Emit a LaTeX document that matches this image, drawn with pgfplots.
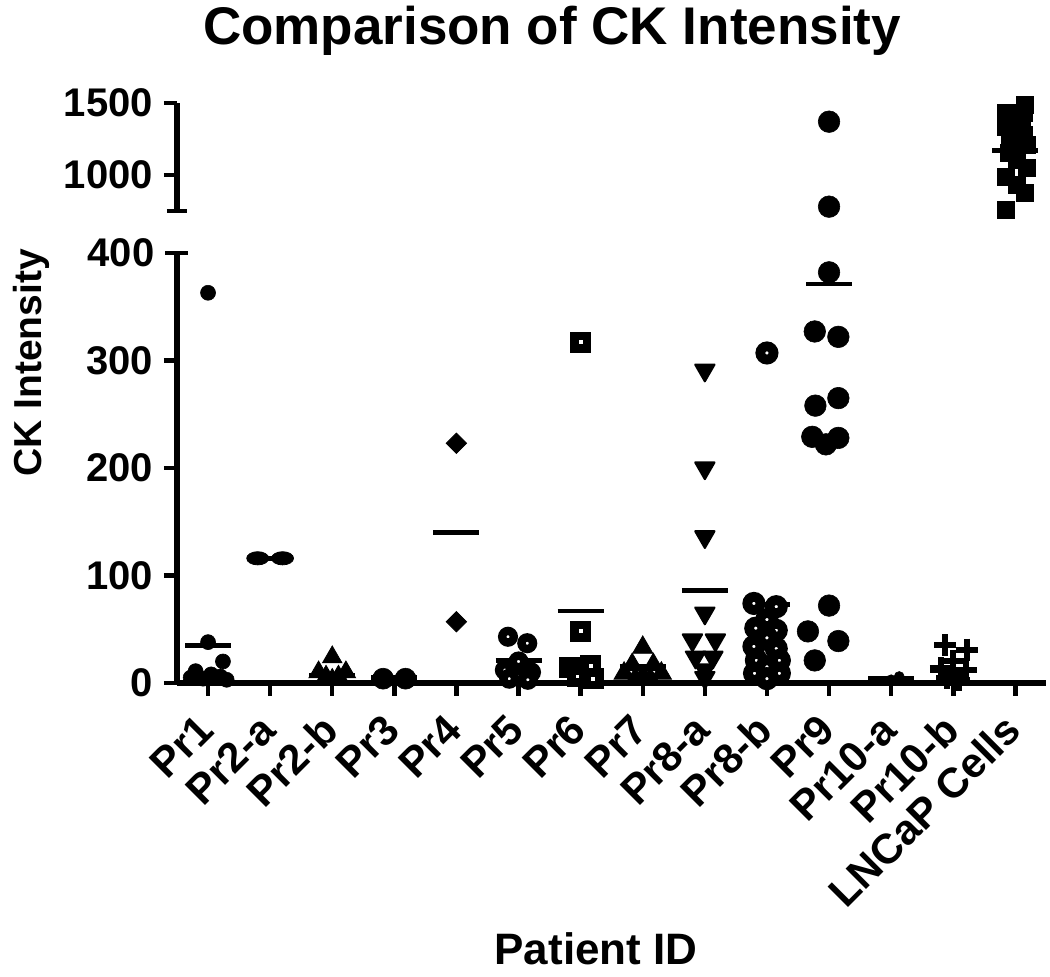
\documentclass[border=0pt]{standalone}
\usepackage{fontspec}
\setmainfont{Liberation Sans}
\usepackage{pgfplots}
\pgfplotsset{compat=1.18}

\pgfplotsset{
  ck/.style={
    scale only axis, width=434.7pt, xmin=-0.5, xmax=13.5,
    clip=false,
    axis line style={-, line width=2.75pt, black},
    tick style={line width=2.25pt, black},
    major tick length=6.5pt,
    tick align=outside,
    /pgf/number format/assume math mode=true,
    /pgf/number format/1000 sep={},
    ticklabel style={font=\fontsize{20}{24}\selectfont\bfseries},
    yticklabel style={xshift=-2pt},
  },
  meanline/.style={line width=2.25pt, no marks, black},
  fcirc/.style={only marks, black, mark=*, mark options={fill=black, draw=black, line width=0.3pt}},
  ocirc/.style={only marks, black, mark=*, mark options={fill=white, draw=black, line width=#1}},
}

\begin{document}
\begin{tikzpicture}
\useasboundingbox (-88.5pt,-147pt) rectangle (436.5pt,341.5pt);

% ---------------- lower segment 0..400 ----------------
\begin{axis}[ck, at={(0pt,0pt)}, anchor=south west, height=215pt,
  ymin=0, ymax=400,
  axis x line*=bottom, axis y line*=left,
  ytick={0,100,200,300},
  extra y ticks={400},
  extra y tick style={tick align=center, major tick length=11.5pt},
  xtick={0,1,2,3,4,5,6,7,8,9,10,11,12,13},
  xticklabels={Pr1,Pr2-a,Pr2-b,Pr3,Pr4,Pr5,Pr6,Pr7,Pr8-a,Pr8-b,Pr9,Pr10-a,Pr10-b,LNCaP Cells},
  xticklabel style={xshift=-0.5pt, yshift=-12.5pt, rotate=45, anchor=east, inner sep=1pt, font=\fontsize{21}{24}\selectfont\bfseries},
]
% Pr1
\addplot[fcirc, mark size=3.75pt] coordinates {(0,363) (0,38) (0.24,20) (-0.2,11) (0.05,8) (0.2,6) (-0.28,5) (-0.08,4) (0.3,3)};
\addplot[meanline] coordinates {(-0.37,35) (0.37,35)};
% Pr2-a
\addplot[only marks, black, mark=*, mark size=5.5pt, mark options={yscale=0.6, fill=black}] coordinates {(0.8,116) (1.2,116)};
\addplot[meanline] coordinates {(0.63,116) (1.37,116)};
% Pr2-b
\addplot[only marks, black, mark=triangle*, mark size=5.6pt, mark options={fill=black}] coordinates {(2,24) (1.78,10) (2.22,10) (1.9,6) (2.1,6) (2,3)};
\addplot[meanline] coordinates {(1.63,7) (2.37,7)};
% Pr3
\addplot[fcirc, mark size=5.25pt] coordinates {(2.82,4) (3.18,4)};
\addplot[meanline] coordinates {(2.63,5) (3.37,5)};
% Pr4
\addplot[only marks, black, mark=square*, mark size=3.6pt, mark options={rotate=45, fill=black}] coordinates {(4,223) (4,57)};
\addplot[meanline] coordinates {(3.63,140) (4.37,140)};
% Pr5
\addplot[ocirc=4.2pt, mark size=2.9pt] coordinates {(4.83,43) (5.14,37) (5.0,20) (4.78,12) (5.2,10) (5.0,6) (4.85,4) (5.15,3)};
\addplot[meanline] coordinates {(4.63,21) (5.37,21)};
% Pr6
\addplot[only marks, black, mark=square*, mark size=3.1pt, mark options={fill=white, draw=black, line width=4.25pt, line join=miter}] coordinates {(6,317) (6,48) (5.82,14) (6.16,16) (5.95,6) (6.2,4)};
\addplot[meanline] coordinates {(5.63,67) (6.37,67)};
% Pr7
\addplot[only marks, black, mark=triangle*, mark size=5.8pt, mark options={fill=black}] coordinates {(7,33) (6.83,17) (7.17,17) (6.7,9) (7.3,9) (7,6) (6.88,4) (7.12,4)};
\addplot[meanline] coordinates {(6.63,16) (7.37,16)};
% Pr8-a
\addplot[only marks, black, mark=triangle*, mark size=5.6pt, mark options={rotate=180, fill=black, line join=round, line width=1pt}] coordinates {(8,291) (8,200) (8,136) (8,65) (7.8,40) (8.17,40) (7.85,24) (8.13,24) (8,12) (8,5)};
\addplot[meanline] coordinates {(7.63,86) (8.37,86)};
% Pr8-b
\addplot[ocirc=4.9pt, mark size=3.3pt] coordinates {(9,307) (8.79,74) (9.15,71) (9,59) (8.82,51) (9.15,49) (9,42) (8.79,34) (9.15,32) (8.83,21) (9.2,21) (9,15) (8.8,9) (9.2,9) (9,4)};
\addplot[meanline] coordinates {(8.63,73) (9.37,73)};
% Pr9
\addplot[fcirc, mark size=5.4pt] coordinates {(10,382) (9.77,327) (10.15,322) (10.15,265) (9.78,258) (9.73,229) (10.15,228) (9.95,222) (10,72) (9.66,48) (10.15,39) (9.77,21)};
\addplot[meanline] coordinates {(9.63,371) (10.37,371)};
% Pr10-a
\addplot[fcirc, mark size=2.5pt] coordinates {(11,3) (11.13,6)};
\addplot[meanline] coordinates {(10.63,4) (11.37,4)};
% Pr10-b
\addplot[only marks, black, mark=+, mark size=5.5pt, mark options={line width=3pt}] coordinates {(11.87,35) (12.22,31) (12,20) (11.8,14) (12.2,12) (12,8) (11.9,5) (12.1,3)};
\addplot[meanline] coordinates {(11.63,11) (12.37,11)};
\end{axis}

% ---------------- upper segment 750..1500 ----------------
\begin{axis}[ck, at={(0pt,236pt)}, anchor=south west, height=54pt,
  ymin=750, ymax=1500,
  axis x line=none, axis y line*=left,
  xtick=\empty,
  ytick={1000,1500},
  extra y ticks={750},
  extra y tick labels={},
  extra y tick style={tick align=center, major tick length=10pt},
]
% Pr9 upper
\addplot[fcirc, mark size=5.4pt] coordinates {(10,1370) (10,780)};
% LNCaP
\addplot[only marks, black, mark=square*, mark size=4.25pt, mark options={fill=black}] coordinates {(13.16,1486) (12.84,1428) (13.13,1430) (13.11,1359) (12.84,1335) (13.13,1278) (12.92,1208) (13.19,1208) (13.0,1190) (12.9,1150) (13.03,1104) (13.19,1046) (12.84,988) (13.03,931) (13.16,873) (12.84,757)};
\addplot[meanline] coordinates {(12.63,1169) (13.37,1169)};
\end{axis}

\node[anchor=base, font=\fontsize{26.5}{30}\selectfont\bfseries] at (187.5pt,319pt) {Comparison of CK Intensity};
\node[anchor=base, rotate=90, font=\fontsize{19.5}{24}\selectfont\bfseries] at (-67.5pt,160pt) {CK Intensity};
\node[anchor=base, font=\fontsize{22}{26}\selectfont\bfseries] at (209.5pt,-141pt) {Patient ID};
\end{tikzpicture}
\end{document}
